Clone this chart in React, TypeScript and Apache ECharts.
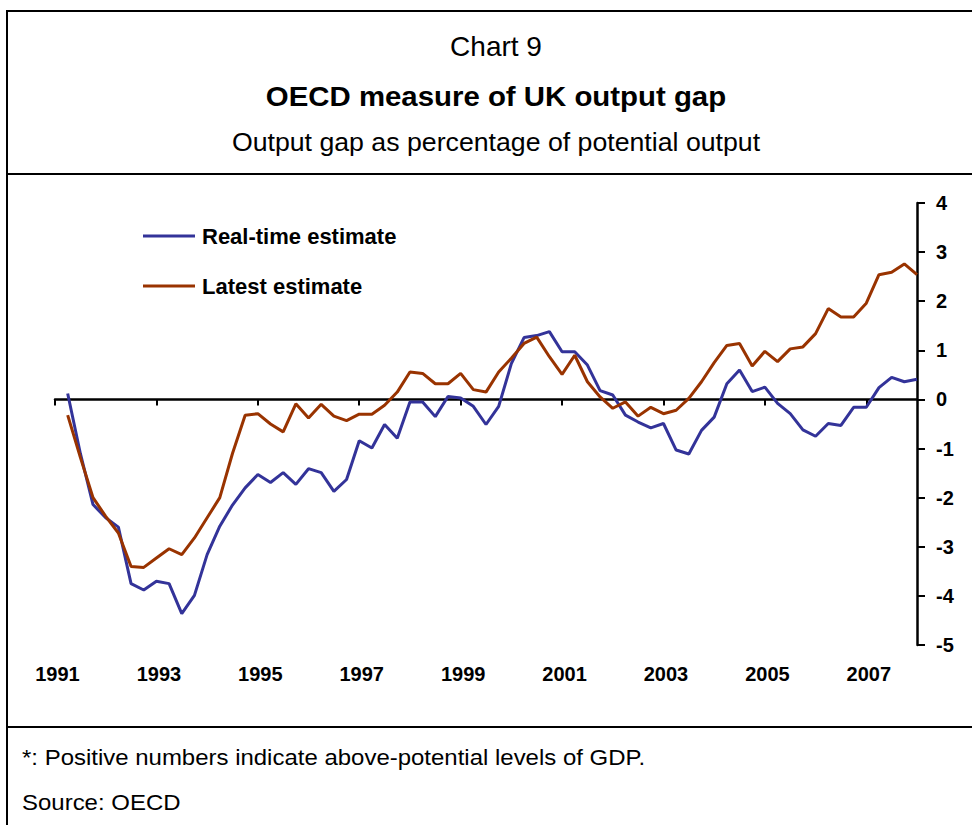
import React, { useEffect, useRef } from "react";
import * as echarts from "echarts";

// Quarterly categories 1991 Q1 .. 2008 Q1
const years = [1991, 1992, 1993, 1994, 1995, 1996, 1997, 1998, 1999, 2000, 2001, 2002, 2003, 2004, 2005, 2006, 2007, 2008];
const quarters = ["Q1", "Q2", "Q3", "Q4"];
const categories: string[] = [];
years.forEach((y) => quarters.forEach((q) => categories.push(`${y} ${q}`)));
categories.length = 69;

const realTime: (number | null)[] = [
  null, 0.12, -1.1, -2.14, -2.41, -2.6, -3.75, -3.88, -3.7, -3.75,
  -4.36, -3.99, -3.16, -2.58, -2.15, -1.8, -1.53, -1.69, -1.49, -1.73,
  -1.41, -1.49, -1.87, -1.63, -0.84, -0.99, -0.51, -0.79, -0.05, -0.05,
  -0.35, 0.06, 0.03, -0.14, -0.51, -0.14, 0.73, 1.26, 1.3, 1.38,
  0.97, 0.97, 0.7, 0.18, 0.09, -0.32, -0.46, -0.58, -0.49, -1.03,
  -1.11, -0.63, -0.36, 0.32, 0.6, 0.16, 0.25, -0.08, -0.29, -0.62,
  -0.75, -0.49, -0.53, -0.16, -0.16, 0.24, 0.45, 0.36, 0.41,
];

const latest: (number | null)[] = [
  null, -0.32, -1.18, -2.0, -2.38, -2.72, -3.4, -3.42, -3.23, -3.04,
  -3.16, -2.82, -2.41, -2.0, -1.1, -0.32, -0.29, -0.5, -0.66, -0.09,
  -0.38, -0.1, -0.34, -0.43, -0.3, -0.3, -0.12, 0.15, 0.56, 0.53,
  0.32, 0.32, 0.53, 0.2, 0.15, 0.56, 0.84, 1.14, 1.27, 0.87,
  0.51, 0.9, 0.36, 0.05, -0.18, -0.05, -0.34, -0.16, -0.29, -0.22,
  0.02, 0.36, 0.75, 1.1, 1.14, 0.68, 0.98, 0.77, 1.03, 1.07,
  1.34, 1.85, 1.68, 1.68, 1.96, 2.54, 2.59, 2.76, 2.54,
];

const seriesNames = ["Real-time estimate", "Latest estimate"];
const titleTexts = ["Chart 9", "OECD measure of UK output gap", "Output gap as percentage of potential output"];
const footTexts = ["*: Positive numbers indicate above-potential levels of GDP.", "Source: OECD"];

const FONT = "Liberation Sans, Arial, sans-serif";

export default function App() {
  const ref = useRef<HTMLDivElement>(null);
  useEffect(() => {
    if (!ref.current) return;
    const chart = echarts.init(ref.current, undefined, { renderer: "svg" });
    chart.setOption({
      animation: false,
      backgroundColor: "#ffffff",
      textStyle: { fontFamily: FONT },
      graphic: [
        { type: "rect", shape: { x: 7, y: 11, width: 1000, height: 840 }, style: { fill: "none", stroke: "#000", lineWidth: 2 } },
        { type: "line", shape: { x1: 7, y1: 174, x2: 980, y2: 174 }, style: { stroke: "#000", lineWidth: 2 } },
        { type: "line", shape: { x1: 7, y1: 727, x2: 980, y2: 727 }, style: { stroke: "#000", lineWidth: 2 } },
        { type: "text", x: 496, y: 46.7, style: { text: titleTexts[0], font: `28px ${FONT}`, fill: "#000", align: "center", verticalAlign: "middle" } },
        { type: "text", x: 496, y: 96.5, scaleX: 1.05, style: { text: titleTexts[1], font: `bold 28px ${FONT}`, fill: "#000", align: "center", verticalAlign: "middle" } },
        { type: "text", x: 496, y: 141.5, style: { text: titleTexts[2], font: `26.7px ${FONT}`, fill: "#000", align: "center", verticalAlign: "middle" } },
        { type: "text", x: 22, y: 757, scaleX: 1.09, style: { text: footTexts[0], font: `22px ${FONT}`, fill: "#000", align: "left", verticalAlign: "middle" } },
        { type: "text", x: 22, y: 802, scaleX: 1.09, style: { text: footTexts[1], font: `22px ${FONT}`, fill: "#000", align: "left", verticalAlign: "middle" } },
      ],
      legend: {
        orient: "vertical",
        left: 143,
        top: 224,
        padding: 0,
        itemWidth: 52,
        itemHeight: 3,
        itemGap: 26,
        icon: "rect",
        data: seriesNames,
        selectedMode: false,
        textStyle: { fontFamily: FONT, fontSize: 22, fontWeight: "bold", color: "#000", lineHeight: 24, padding: [0, 0, 0, 2] },
      },
      grid: { left: 55, right: 55, top: 203, bottom: 180, containLabel: false },
      xAxis: [
        {
          type: "category",
          data: categories,
          boundaryGap: false,
          position: "bottom",
          axisLine: { show: false, onZero: false },
          axisTick: { show: false },
          splitLine: { show: false },
          axisLabel: {
            interval: 7,
            margin: 19,
            padding: [0, 0, 0, 5],
            fontFamily: FONT,
            fontSize: 20,
            fontWeight: "bold",
            color: "#000",
            formatter: (v: string) => v.slice(0, 4),
          },
        },
        {
          type: "category",
          data: categories,
          boundaryGap: false,
          position: "bottom",
          axisLine: { show: true, onZero: true, lineStyle: { color: "#000", width: 2.5 } },
          axisTick: { show: true, interval: 7, length: 6, inside: false, lineStyle: { color: "#000", width: 2 } },
          axisLabel: { show: false },
          splitLine: { show: false },
        },
      ],
      yAxis: {
        type: "value",
        position: "right",
        min: -5,
        max: 4,
        interval: 1,
        axisLine: { show: true, lineStyle: { color: "#000", width: 2.5 } },
        axisTick: { show: true, length: 8, inside: false, lineStyle: { color: "#000", width: 2 } },
        splitLine: { show: false },
        axisLabel: { margin: 19, fontFamily: FONT, fontSize: 20, fontWeight: "bold", color: "#000" },
      },
      series: [
        {
          name: seriesNames[0],
          type: "line",
          xAxisIndex: 0,
          data: realTime,
          symbol: "none",
          showSymbol: false,
          color: "#333399",
          lineStyle: { color: "#333399", width: 3 },
        },
        {
          name: seriesNames[1],
          type: "line",
          xAxisIndex: 0,
          data: latest,
          symbol: "none",
          showSymbol: false,
          color: "#993300",
          lineStyle: { color: "#993300", width: 3 },
        },
      ],
    });
    return () => chart.dispose();
  }, []);
  return <div ref={ref} style={{ position: "fixed", left: 0, top: 0, width: 972, height: 825 }} />;
}
